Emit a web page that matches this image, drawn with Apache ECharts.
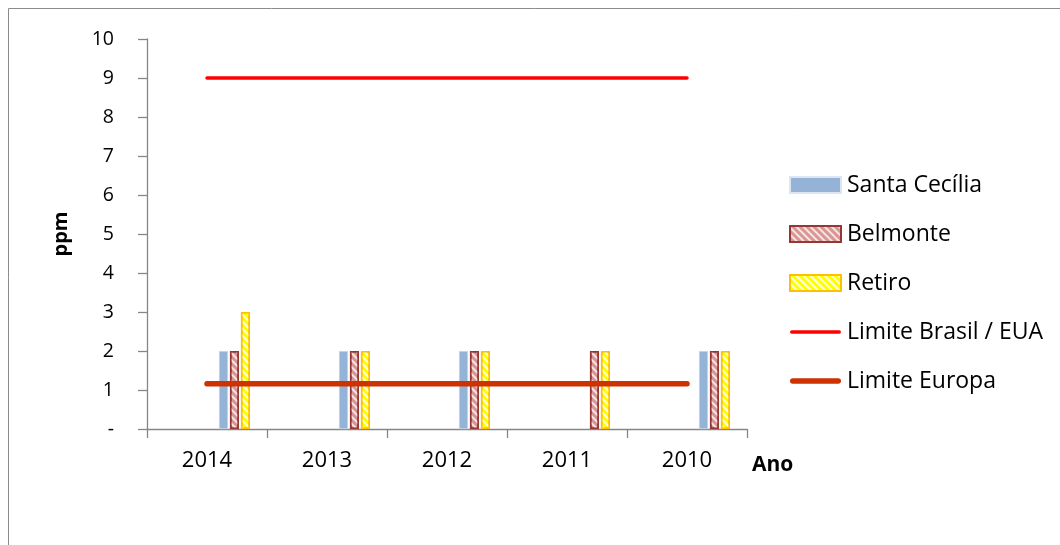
<!DOCTYPE html>
<html>
<head>
<meta charset="utf-8">
<script src="https://cdn.jsdelivr.net/npm/echarts@6/dist/echarts.min.js"></script>
<style>
  html, body { margin: 0; padding: 0; background: #fff; }
  #chart { width: 1060px; height: 545px; }
</style>
</head>
<body>
<div id="chart"></div>
<script>
// Years on the horizontal axis
const anos = ['2014', '2013', '2012', '2011', '2010'];
// Measured concentrations (ppm); '-' means no measurement
const santaCecilia = [2, 2, 2, '-', 2];
const belmonte = [2, 2, 2, 2, 2];
const retiro = [3, 2, 2, 2, 2];
// Regulatory limits (ppm)
const limiteBrasilEUA = [9, 9, 9, 9, 9];
const limiteEuropa = [1.16, 1.16, 1.16, 1.16, 1.16];
// Y axis tick labels
const yTicks = ['-', '1', '2', '3', '4', '5', '6', '7', '8', '9', '10'];

const font = 'Open Sans';
const axisGray = '#868686';

// Empty bar slots that push the three measured series to the right of each year
const spacer = () => ({
  type: 'bar', data: anos.map(() => '-'), barWidth: 9, barGap: '22%',
  silent: true, legendHoverLink: false
});

// Diagonal white hatching, running from upper left to lower right
const stripes = (color) => ({
  symbol: 'rect',
  color: color,
  dashArrayX: [1, 0],
  dashArrayY: [2, 3],
  rotation: Math.PI / 4
});

// Legend icons for the limit lines: flat bars with rounded ends
const lineIcon = (h) =>
  `path://M${h / 2},0h${51 - h}a${h / 2},${h / 2} 0 0 1 0,${h}h${-(51 - h)}a${h / 2},${h / 2} 0 0 1 0,${-h}z`;

const chart = echarts.init(document.getElementById('chart'), null, { renderer: 'canvas' });
chart.setOption({
  animation: false,
  backgroundColor: '#fff',
  textStyle: { fontFamily: font },
  graphic: [{
    type: 'rect',
    shape: { x: 8.5, y: 8.5, width: 1100, height: 600 },
    style: { fill: 'none', stroke: '#8c8c8c', lineWidth: 1 },
    silent: true, z: -10
  }],
  grid: { left: 147, right: 313, top: 39, bottom: 116, containLabel: false },
  legend: {
    orient: 'vertical',
    left: 789, top: 173,
    padding: 0,
    itemWidth: 51, itemHeight: 16,
    itemGap: 25,
    selectedMode: false,
    data: [
      { name: 'Santa Cecília', icon: 'rect' },
      { name: 'Belmonte', icon: 'rect' },
      { name: 'Retiro', icon: 'rect' },
      { name: 'Limite Brasil / EUA', icon: lineIcon(3.5) },
      { name: 'Limite Europa', icon: lineIcon(5.5) }
    ],
    textStyle: { fontFamily: font, fontSize: 23, color: '#000', lineHeight: 24, padding: [0, 0, 0, 1] }
  },
  xAxis: {
    type: 'category',
    data: anos,
    boundaryGap: true,
    name: 'Ano',
    nameLocation: 'end',
    nameGap: 5,
    nameTextStyle: { fontFamily: font, fontSize: 21, fontWeight: 'bold', color: '#000',
                     verticalAlign: 'top', align: 'left', padding: [26, 0, 0, 0] },
    axisLine: { lineStyle: { color: axisGray, width: 1.3 } },
    axisTick: { show: true, alignWithLabel: false, length: 9, lineStyle: { color: axisGray, width: 1.3 } },
    axisLabel: { fontFamily: font, fontSize: 22, color: '#000', margin: 21 },
    splitLine: { show: false }
  },
  yAxis: {
    type: 'value',
    min: 0, max: 10, interval: 1,
    name: 'ppm',
    nameLocation: 'middle',
    nameRotate: 90,
    nameGap: 76,
    nameTextStyle: { fontFamily: font, fontSize: 20, fontWeight: 'bold', color: '#000' },
    axisLine: { show: true, lineStyle: { color: axisGray, width: 1.3 } },
    axisTick: { show: true, length: 9, lineStyle: { color: axisGray, width: 1.3 } },
    axisLabel: {
      fontFamily: font, fontSize: 19.5, color: '#000', margin: 33,
      formatter: (v) => yTicks[Math.round(v)]
    },
    splitLine: { show: false }
  },
  series: [
    spacer(), spacer(), spacer(), spacer(), spacer(),
    {
      name: 'Santa Cecília', type: 'bar', data: santaCecilia,
      barWidth: 9, barGap: '22%',
      itemStyle: { color: '#95B3D7', borderColor: '#dce6f2', borderWidth: 0.5 }
    },
    {
      name: 'Belmonte', type: 'bar', data: belmonte,
      barWidth: 9, barGap: '22%',
      itemStyle: { color: '#D99694', borderColor: '#953735', borderWidth: 1.6,
                   decal: stripes('rgba(255,255,255,0.75)') }
    },
    {
      name: 'Retiro', type: 'bar', data: retiro,
      barWidth: 9, barGap: '22%',
      itemStyle: { color: '#FFFF00', borderColor: '#FFC000', borderWidth: 1.6,
                   decal: stripes('rgba(255,255,255,0.9)') }
    },
    {
      name: 'Limite Brasil / EUA', type: 'line', data: limiteBrasilEUA,
      symbol: 'none', showSymbol: false, z: 5,
      itemStyle: { color: '#FF0000' },
      lineStyle: { color: '#FF0000', width: 3.5, cap: 'round' }
    },
    {
      name: 'Limite Europa', type: 'line', data: limiteEuropa,
      symbol: 'none', showSymbol: false, z: 5,
      itemStyle: { color: '#CC3300' },
      lineStyle: { color: '#CC3300', width: 5.5, cap: 'round' }
    }
  ]
});
</script>
</body>
</html>
